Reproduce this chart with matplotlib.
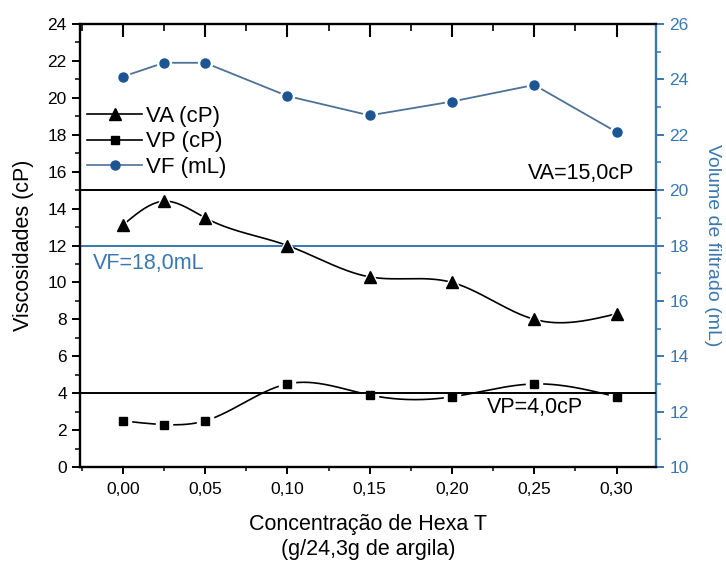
import numpy as np
import matplotlib
matplotlib.use("Agg")
import matplotlib.pyplot as plt
from matplotlib.ticker import FuncFormatter, MultipleLocator
from matplotlib.lines import Line2D

plt.rcParams['font.family'] = ['Liberation Sans', 'DejaVu Sans']

# Hexa T concentration (g per 24.3 g of clay)
conc = [0.00, 0.025, 0.05, 0.10, 0.15, 0.20, 0.25, 0.30]
# apparent viscosity (cP)
va = [13.1, 14.4, 13.5, 12.0, 10.3, 10.0, 8.0, 8.3]
# plastic viscosity (cP)
vp = [2.5, 2.3, 2.5, 4.5, 3.9, 3.8, 4.5, 3.8]
# filtrate volume (mL)
vf = [24.1, 24.6, 24.6, 23.4, 22.7, 23.2, 23.8, 22.1]

# specification limits
va_limit = 15.0
vp_limit = 4.0
vf_limit = 18.0

BLUE_MK = '#1b5592'
BLUE_LN = '#4d7197'
BLUE_TX = '#3a77b0'


def natural_spline(x, y, n=400):
    x = np.asarray(x, float)
    y = np.asarray(y, float)
    k = len(x)
    h = np.diff(x)
    A = np.zeros((k, k))
    r = np.zeros(k)
    A[0, 0] = A[-1, -1] = 1.0
    for i in range(1, k - 1):
        A[i, i - 1] = h[i - 1]
        A[i, i] = 2 * (h[i - 1] + h[i])
        A[i, i + 1] = h[i]
        r[i] = 3 * ((y[i + 1] - y[i]) / h[i] - (y[i] - y[i - 1]) / h[i - 1])
    c = np.linalg.solve(A, r)
    b = (np.diff(y) / h) - h * (2 * c[:-1] + c[1:]) / 3
    d = np.diff(c) / (3 * h)
    xs = np.linspace(x[0], x[-1], n)
    idx = np.clip(np.searchsorted(x, xs, side='right') - 1, 0, k - 2)
    t = xs - x[idx]
    ys = y[idx] + b[idx] * t + c[idx] * t ** 2 + d[idx] * t ** 3
    return xs, ys


fig = plt.figure(figsize=(7.26, 5.64), dpi=100)
ax = fig.add_axes([0.1102, 0.172, 0.7934, 0.7854])
ax2 = ax.twinx()

# smooth curves for viscosities
xs, ys = natural_spline(conc, va)
ax.plot(xs, ys, color='black', lw=1.2, zorder=2)
xs, ys = natural_spline(conc, vp)
ax.plot(xs, ys, color='black', lw=1.2, zorder=2)

# white halos around symbols
ax.plot(conc, va, ls='none', marker='^', ms=13, color='white', zorder=3)
ax.plot(conc, vp, ls='none', marker='s', ms=11, color='white', zorder=3)

ax.axhline(va_limit, color='black', lw=1.4, zorder=3.5)
ax.axhline(vp_limit, color='black', lw=1.4, zorder=3.5)

ax.plot(conc, va, ls='none', marker='^', ms=8, color='black', zorder=4)
ax.plot(conc, vp, ls='none', marker='s', ms=5.5, color='black', zorder=4)

# filtrate volume on the right axis
ax2.plot(conc, vf, color=BLUE_LN, lw=1.3, zorder=2)
ax2.plot(conc, vf, ls='none', marker='o', ms=10, color='white', zorder=3)
ax2.axhline(vf_limit, color=BLUE_TX, lw=1.4, zorder=3.5)
ax2.plot(conc, vf, ls='none', marker='o', ms=6.5, color=BLUE_MK, zorder=4)

ax.set_xlim(-0.026, 0.324)
ax.set_ylim(0, 24)
ax2.set_ylim(10, 26)

ax.xaxis.set_major_locator(MultipleLocator(0.05))
ax.xaxis.set_minor_locator(MultipleLocator(0.025))
ax.xaxis.set_major_formatter(FuncFormatter(lambda v, p: f"{v:.2f}".replace('.', ',').replace('-0,00', '0,00')))
ax.yaxis.set_major_locator(MultipleLocator(2))
ax.yaxis.set_minor_locator(MultipleLocator(1))
ax2.yaxis.set_major_locator(MultipleLocator(2))
ax2.yaxis.set_minor_locator(MultipleLocator(1))

ax.tick_params(axis='x', which='both', direction='out', top=False, labelsize=12.5)
ax.tick_params(axis='x', which='major', length=5, width=1.4, pad=6)
ax.tick_params(axis='x', which='minor', length=3, width=1.1)
ax.tick_params(axis='y', which='major', direction='out', length=6, width=1.4, labelsize=12.5)
ax.tick_params(axis='y', which='minor', direction='out', length=3.5, width=1.1)
ax2.tick_params(axis='y', which='major', direction='out', length=6, width=1.4,
                colors=BLUE_TX, labelsize=12.5)
ax2.tick_params(axis='y', which='minor', direction='out', length=3.5, width=1.1, colors=BLUE_TX)

# inward tick marks along the top edge, at the x axis tick locations
xmin, xmax = ax.get_xlim()
top_major = [v for v in ax.xaxis.get_majorticklocs() if xmin <= v <= xmax]
top_minor = [v for v in ax.xaxis.get_minorticklocs() if xmin <= v <= xmax]
xt = ax.get_xaxis_transform()
ax.plot(top_major, [1] * len(top_major), ls='none', marker=3, ms=9, mew=1.5,
        color='black', transform=xt, clip_on=False, zorder=6)
ax.plot(top_minor, [1] * len(top_minor), ls='none', marker=3, ms=5, mew=1.2,
        color='black', transform=xt, clip_on=False, zorder=6)

for side in ('left', 'bottom', 'top'):
    ax.spines[side].set_linewidth(1.7)
for side in ('left', 'bottom', 'top'):
    ax2.spines[side].set_visible(False)
ax.spines['right'].set_visible(False)
ax2.spines['right'].set_color(BLUE_TX)
ax2.spines['right'].set_linewidth(1.7)

ax.set_ylabel('Viscosidades (cP)', fontsize=15.5, labelpad=10)
ax2.set_ylabel('Volume de filtrado (mL)', fontsize=14, color=BLUE_TX,
               rotation=270, labelpad=23)
ax.set_xlabel('Concentração de Hexa T\n(g/24,3g de argila)', fontsize=15.5,
              labelpad=12, linespacing=1.25)

ax.text(0.246, 15.6, 'VA=15,0cP', fontsize=15.5, ha='left', va='baseline')
ax.text(-0.018, 10.75, 'VF=18,0mL', fontsize=15.5, ha='left', va='baseline', color=BLUE_TX)
ax.text(0.221, 2.95, 'VP=4,0cP', fontsize=15.5, ha='left', va='baseline')

handles = [
    Line2D([], [], color='black', lw=1.2, marker='^', ms=8),
    Line2D([], [], color='black', lw=1.2, marker='s', ms=5.5),
    Line2D([], [], color=BLUE_LN, lw=1.2, marker='o', ms=6.5, mfc=BLUE_MK, mec=BLUE_MK),
]
ax.legend(handles, ['VA (cP)', 'VP (cP)', 'VF (mL)'], loc='upper left',
          bbox_to_anchor=(0.012, 0.815), frameon=False, fontsize=16,
          handlelength=2.5, handletextpad=0.15, labelspacing=0.2, borderpad=0,
          borderaxespad=0)

ax.set_zorder(ax2.get_zorder() + 1)
ax.patch.set_visible(False)

fig.savefig('out.png', dpi=100)
